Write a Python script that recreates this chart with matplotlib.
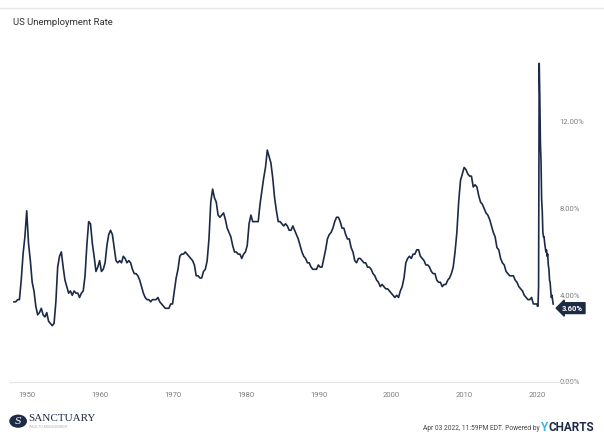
import matplotlib.pyplot as plt
import numpy as np
import pandas as pd

# US unemployment rate, quarterly 1948Q1 - 2019Q4
quarterly_rate = [
    3.7, 3.7, 3.8, 3.8,     # 1948
    4.7, 5.9, 6.7, 7.9,     # 1949
    6.4, 5.6, 4.6, 4.2,     # 1950
    3.5, 3.1, 3.2, 3.4,     # 1951
    3.1, 3.0, 3.2, 2.8,     # 1952
    2.7, 2.6, 2.7, 3.7,     # 1953
    5.3, 5.8, 6.0, 5.3,     # 1954
    4.7, 4.4, 4.1, 4.2,     # 1955
    4.0, 4.2, 4.1, 4.1,     # 1956
    3.9, 4.1, 4.2, 4.9,     # 1957
    6.3, 7.4, 7.3, 6.4,     # 1958
    5.8, 5.1, 5.3, 5.6,     # 1959
    5.1, 5.2, 5.5, 6.3,     # 1960
    6.8, 7.0, 6.8, 6.2,     # 1961
    5.6, 5.5, 5.6, 5.5,     # 1962
    5.8, 5.7, 5.5, 5.6,     # 1963
    5.5, 5.2, 5.0, 5.0,     # 1964
    4.9, 4.7, 4.4, 4.1,     # 1965
    3.9, 3.8, 3.8, 3.7,     # 1966
    3.8, 3.8, 3.8, 3.9,     # 1967
    3.7, 3.6, 3.5, 3.4,     # 1968
    3.4, 3.4, 3.6, 3.6,     # 1969
    4.2, 4.8, 5.2, 5.8,     # 1970
    5.9, 5.9, 6.0, 5.9,     # 1971
    5.8, 5.7, 5.6, 5.4,     # 1972
    4.9, 4.9, 4.8, 4.8,     # 1973
    5.1, 5.2, 5.6, 6.6,     # 1974
    8.3, 8.9, 8.5, 8.3,     # 1975
    7.7, 7.6, 7.7, 7.8,     # 1976
    7.5, 7.1, 6.9, 6.7,     # 1977
    6.3, 6.0, 6.0, 5.9,     # 1978
    5.9, 5.7, 5.9, 6.0,     # 1979
    6.3, 7.3, 7.7, 7.4,     # 1980
    7.4, 7.4, 7.4, 8.2,     # 1981
    8.8, 9.4, 9.9, 10.7,    # 1982
    10.4, 10.1, 9.4, 8.5,   # 1983
    7.9, 7.4, 7.4, 7.3,     # 1984
    7.2, 7.3, 7.2, 7.0,     # 1985
    7.0, 7.2, 7.0, 6.8,     # 1986
    6.6, 6.3, 6.0, 5.8,     # 1987
    5.7, 5.5, 5.5, 5.3,     # 1988
    5.2, 5.2, 5.2, 5.4,     # 1989
    5.3, 5.3, 5.7, 6.1,     # 1990
    6.6, 6.8, 6.9, 7.1,     # 1991
    7.4, 7.6, 7.6, 7.4,     # 1992
    7.1, 7.1, 6.8, 6.6,     # 1993
    6.6, 6.2, 6.0, 5.6,     # 1994
    5.5, 5.7, 5.7, 5.6,     # 1995
    5.5, 5.5, 5.3, 5.3,     # 1996
    5.2, 5.0, 4.9, 4.7,     # 1997
    4.6, 4.4, 4.5, 4.4,     # 1998
    4.3, 4.3, 4.2, 4.1,     # 1999
    4.0, 3.9, 4.0, 3.9,     # 2000
    4.2, 4.4, 4.8, 5.5,     # 2001
    5.7, 5.8, 5.7, 5.9,     # 2002
    5.9, 6.1, 6.1, 5.8,     # 2003
    5.7, 5.6, 5.4, 5.4,     # 2004
    5.3, 5.1, 5.0, 5.0,     # 2005
    4.7, 4.6, 4.6, 4.4,     # 2006
    4.5, 4.5, 4.7, 4.8,     # 2007
    5.0, 5.3, 6.0, 6.9,     # 2008
    8.3, 9.3, 9.6, 9.9,     # 2009
    9.8, 9.6, 9.5, 9.5,     # 2010
    9.0, 9.1, 9.0, 8.6,     # 2011
    8.3, 8.2, 8.0, 7.8,     # 2012
    7.7, 7.5, 7.2, 6.9,     # 2013
    6.7, 6.2, 6.1, 5.7,     # 2014
    5.5, 5.4, 5.1, 5.0,     # 2015
    4.9, 4.9, 4.9, 4.7,     # 2016
    4.6, 4.4, 4.3, 4.2,     # 2017
    4.0, 3.9, 3.8, 3.8,     # 2018
    3.9, 3.6, 3.6, 3.6,     # 2019
]

# monthly from Jan 2020 to Mar 2022
monthly_rate = [
    3.5, 3.5, 4.4, 14.7, 13.2, 11.0, 10.2, 8.4, 7.9, 6.9, 6.7, 6.7,   # 2020
    6.4, 6.2, 6.0, 6.1, 5.8, 5.9, 5.4, 5.2, 4.7, 4.6, 4.2, 3.9,      # 2021
    4.0, 3.8, 3.6,                                                    # 2022
]

year_ticks = [1950, 1960, 1970, 1980, 1990, 2000, 2010, 2020]
pct_ticks = [0, 4, 8, 12]
last_value = monthly_rate[-1]

q_dates = pd.date_range("1948-02-15", periods=len(quarterly_rate), freq="3MS") + pd.Timedelta(days=14)
m_dates = pd.date_range("2020-01-01", periods=len(monthly_rate), freq="MS")
dates = q_dates.append(m_dates)
rate = np.array(quarterly_rate + monthly_rate)

navy = "#1c2a46"
gray = "#7d7d7d"

fig = plt.figure(figsize=(6.04, 4.36), dpi=100)
ax = fig.add_axes([0.0166, 0.1239, 0.9007, 0.7555])
ax.plot(dates, rate, color=navy, lw=1.2)

ax.set_xlim(pd.Timestamp("1947-09-01"), pd.Timestamp("2022-04-15"))
ax.set_ylim(0, 15.2)
for s in ax.spines.values():
    s.set_visible(False)
ax.axhline(0, color="#e3e3e3", lw=0.8, xmin=0, xmax=1.04, clip_on=False)

ax.set_xticks([pd.Timestamp(f"{y}-01-01") for y in year_ticks])
ax.set_xticklabels([str(y) for y in year_ticks], fontsize=5.5, color=gray, family="Roboto")
ax.tick_params(axis="x", length=0, pad=7)
ax.yaxis.tick_right()
ax.set_yticks(pct_ticks)
ax.set_yticklabels([f"{v:.2f}%" for v in pct_ticks], fontsize=5.5, color=gray, family="Roboto")
ax.tick_params(axis="y", length=0, pad=4)

# last value tag
ax.annotate(f"{last_value:.2f}%", xy=(dates[-1], last_value), xytext=(14, -3),
            textcoords="offset points", ha="center", va="center",
            fontsize=5.5, color="white", fontweight="bold", family="Roboto",
            bbox=dict(boxstyle="larrow,pad=0.25", fc=navy, ec=navy))

fig.text(0.0215, 0.943, "US Unemployment Rate", fontsize=6.8, color="#333333", family="Roboto")
fig.add_artist(plt.Line2D([0, 1], [0.982, 0.982], color="#e8e8e8", lw=1.0))

# footer: logo and source
fig.add_artist(plt.Circle((0.030, 0.034), 0.0135, transform=fig.transFigure, color=navy))
fig.text(0.030, 0.034, "S", fontsize=7, color="white", ha="center", va="center",
         family="DejaVu Serif", style="italic")
fig.text(0.047, 0.040, "SANCTUARY", fontsize=8, color=navy, va="center", family="Liberation Serif")
fig.text(0.048, 0.020, "WEALTH MANAGEMENT", fontsize=2.5, color="#b5b5b5", va="center", family="Roboto")

fig.text(0.893, 0.018, "Apr 03 2022, 11:59PM EDT. Powered by", fontsize=4.8, color="#444444",
         ha="right", va="center", family="Roboto")
fig.text(0.895, 0.020, "Y", fontsize=8.5, color="#42b4e6", fontweight="bold", va="center", family="Roboto")
fig.text(0.908, 0.020, "CHARTS", fontsize=8.5, color=navy, fontweight="bold", va="center", family="Roboto")

fig.savefig("out.png", dpi=100)
